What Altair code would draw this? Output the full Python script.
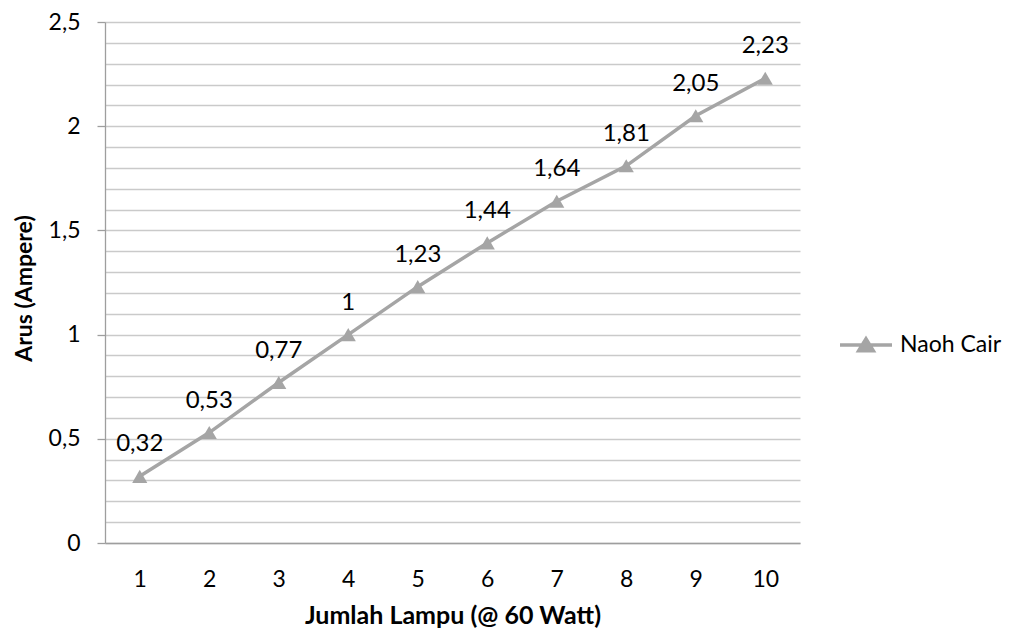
import altair as alt
import pandas as pd

# Measured current for each number of 60 W lamps
lampu = [1, 2, 3, 4, 5, 6, 7, 8, 9, 10]
arus = [0.32, 0.53, 0.77, 1.00, 1.23, 1.44, 1.64, 1.81, 2.05, 2.23]
seri = "Naoh Cair"

df = pd.DataFrame({"lampu": lampu, "arus": arus, "seri": seri})

GREY = "#A5A5A5"
FONT = "Lato"

# Minor gridlines every 0.1, labels and ticks every 0.5
y_ticks = [round(i * 0.1, 1) for i in range(26)]
is_major = "abs(round(datum.value * 10) % 5) == 0"

x_enc = alt.X(
    "lampu:Q",
    scale=alt.Scale(domain=[0.5, 10.5], nice=False, zero=False),
    axis=alt.Axis(
        values=lampu,
        grid=False,
        ticks=False,
        labelPadding=25,
        title="Jumlah Lampu (@ 60 Watt)",
        titleFontSize=25,
        titleY=72,
        titleBaseline="middle",
    ),
)
y_enc = alt.Y(
    "arus:Q",
    scale=alt.Scale(domain=[0, 2.5], nice=False),
    axis=alt.Axis(
        values=y_ticks,
        grid=True,
        labelExpr=f"{is_major} ? replace('' + datum.value, '.', ',') : ''",
        tickOpacity={"condition": {"test": is_major, "value": 1}, "value": 0},
        tickSize=8,
        labelPadding=17,
        title="Arus (Ampere)",
        titleFontSize=23,
        titleX=-81,
        titleY=266,
        titleAngle=270,
        titleAlign="center",
        titleBaseline="middle",
    ),
)

base = alt.Chart(df).encode(x=x_enc, y=y_enc)

line = base.mark_line(strokeWidth=3.5).encode(
    color=alt.Color(
        "seri:N",
        scale=alt.Scale(range=[GREY]),
        legend=alt.Legend(
            title=None,
            orient="none",
            legendX=733,
            legendY=295,
            symbolType="M-1,0L1,0M-0.28,0.22L0,-0.24L0.28,0.22Z",
            symbolSize=2704,
            symbolStrokeWidth=3.5,
            symbolFillColor=GREY,
            symbolStrokeColor=GREY,
            labelFontSize=23,
            labelFont=FONT,
            labelColor="#000000",
            labelOffset=6,
            padding=0,
        ),
    )
)

points = base.mark_point(
    shape="triangle-up", size=230, filled=True, color=GREY, opacity=1
)

labels = (
    base.transform_calculate(teks="replace('' + datum.arus, '.', ',')")
    .mark_text(dy=-32, fontSize=24, font=FONT, color="#000000", baseline="middle")
    .encode(text="teks:N")
)

chart = (
    alt.layer(line, points, labels)
    .properties(
        width=695,
        height=521,
        padding={"left": 105, "top": 22, "right": 210, "bottom": 89},
        autosize=alt.AutoSizeParams(type="none"),
        background="white",
    )
    .configure_view(stroke=None)
    .configure_axis(
        labelFont=FONT,
        labelFontSize=23,
        labelColor="#000000",
        titleFont=FONT,
        titleFontWeight="bold",
        titleColor="#000000",
        domainColor="#9E9E9E",
        domainWidth=1.3,
        tickColor="#9E9E9E",
        tickWidth=1.3,
        gridColor="#CACACA",
        gridWidth=1.3,
    )
)

chart.save("out.html", embed_options={"renderer": "svg", "actions": False})
